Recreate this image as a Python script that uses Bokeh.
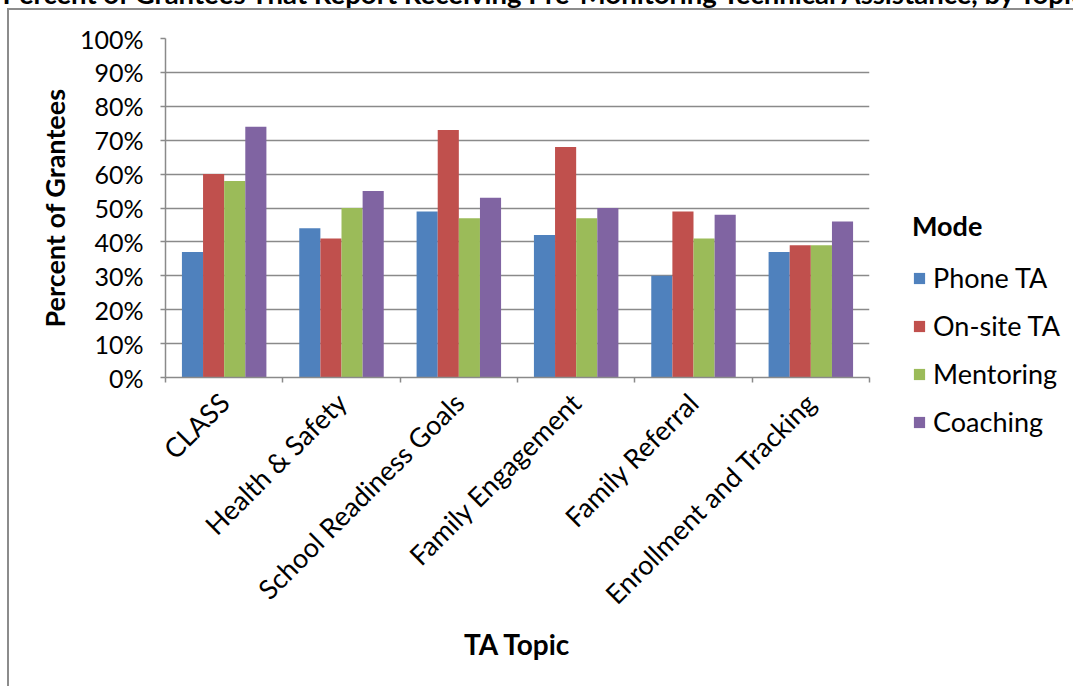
import math
from bokeh.plotting import figure
from bokeh.models import (Range1d, FixedTicker, Legend, LegendItem, Label,
                          PrintfTickFormatter, ColumnDataSource, InlineStyleSheet)
from bokeh.transform import dodge
from bokeh.embed import file_html
from bokeh.resources import INLINE

# ---- data ----
topics = ["CLASS", "Health & Safety", "School Readiness Goals",
          "Family Engagement", "Family Referral", "Enrollment and Tracking"]
modes = ["Phone TA", "On-site TA", "Mentoring", "Coaching"]
phone_ta = [37, 44, 49, 42, 30, 37]
onsite_ta = [60, 41, 73, 68, 49, 39]
mentoring = [58, 50, 47, 47, 41, 39]
coaching = [74, 55, 53, 50, 48, 46]
y_ticks = [0, 10, 20, 30, 40, 50, 60, 70, 80, 90, 100]
title_text = "Percent of Grantees That Report Receiving Pre-Monitoring Technical Assistance, by Topic"
x_title = "TA Topic"
y_title = "Percent of Grantees"
legend_title = "Mode"

colors = ["#4F81BD", "#C0504D", "#9BBB59", "#8064A2"]
FONT = "Lato"
GRAY = "#8a8a8a"

n = len(topics)
idx = list(range(n))
src = ColumnDataSource(dict(x=idx, phone=phone_ta, onsite=onsite_ta,
                            mentoring=mentoring, coaching=coaching))

p = figure(width=1073, height=686, frame_width=704, frame_height=339,
           x_range=Range1d(-0.5, n - 0.5),
           y_range=Range1d(0, 100), output_backend="svg", toolbar_location=None,
           min_border_left=165, min_border_right=204, min_border_top=38,
           min_border_bottom=309)
p.outline_line_color = None

# keep the page to the window and draw the chart-area frame (it runs past the window)
p.stylesheets = [InlineStyleSheet(css="""
:host { width: 1073px !important; height: 686px !important; overflow: hidden !important; position: relative; }
:host::after { content: ""; position: absolute; left: 7px; top: 8px; width: 3000px; height: 3000px;
  border-left: 2px solid #8c8c8c; border-top: 2px solid #8c8c8c; pointer-events: none; }
""")]

cols = ["phone", "onsite", "mentoring", "coaching"]
bw = 0.18
offsets = [-1.5 * bw, -0.5 * bw, 0.5 * bw, 1.5 * bw]
renderers = []
for c, off, col in zip(cols, offsets, colors):
    r = p.vbar(x=dodge("x", off, range=p.x_range), top=c, width=bw, bottom=0,
               source=src, fill_color=col, line_color=None)
    renderers.append(r)

# grid
p.xgrid.grid_line_color = None
p.ygrid.ticker = FixedTicker(ticks=y_ticks)
p.ygrid.grid_line_color = GRAY
p.ygrid.grid_line_width = 1.5

# y axis
ya = p.yaxis[0]
ya.ticker = FixedTicker(ticks=y_ticks)
ya.formatter = PrintfTickFormatter(format="%d%%")
ya.axis_line_color = GRAY
ya.axis_line_width = 1.5
ya.major_tick_line_color = GRAY
ya.major_tick_line_width = 1.5
ya.major_tick_out = 5
ya.major_tick_in = 0
ya.minor_tick_line_color = None
ya.major_label_standoff = 17
ya.major_label_text_font = FONT
ya.major_label_text_font_size = "25px"
ya.major_label_text_color = "black"
ya.axis_label = y_title
ya.axis_label_text_font = FONT
ya.axis_label_text_font_size = "27px"
ya.axis_label_text_font_style = "bold"
ya.axis_label_text_color = "black"
ya.axis_label_standoff = 6

# x axis
xa = p.xaxis[0]
xa.ticker = FixedTicker(ticks=idx, minor_ticks=[i - 0.5 for i in range(n + 1)])
xa.major_label_overrides = {i: t for i, t in enumerate(topics)}
xa.major_label_orientation = math.pi / 4
xa.major_tick_line_color = None
xa.major_tick_out = 0
xa.major_tick_in = 0
xa.minor_tick_line_color = GRAY
xa.minor_tick_line_width = 1.5
xa.minor_tick_out = 5
xa.minor_tick_in = 0
xa.axis_line_color = GRAY
xa.axis_line_width = 1.5
xa.major_label_standoff = 15
xa.major_label_text_font = FONT
xa.major_label_text_font_size = "27px"
xa.major_label_text_color = "black"
xa.axis_label = x_title
xa.axis_label_text_font = FONT
xa.axis_label_text_font_size = "28px"
xa.axis_label_text_font_style = "bold"
xa.axis_label_text_color = "black"
xa.axis_label_standoff = 2

# legend (right panel)
items = [LegendItem(label=m, renderers=[r]) for m, r in zip(modes, renderers)]
leg = Legend(items=items, title=legend_title, location=(43, -61),
             orientation="vertical", glyph_width=14, glyph_height=14,
             label_standoff=7, spacing=15, padding=0, margin=0,
             title_standoff=19, background_fill_alpha=0,
             border_line_color=None,
             label_text_font=FONT, label_text_font_size="27px",
             label_text_color="black",
             title_text_font=FONT, title_text_font_size="27px",
             title_text_font_style="bold", title_text_color="black")
p.add_layout(leg, "right")

# caption above the chart area (only its lower edge is inside the window)
caption = Label(x=2, y=-7, x_units="canvas", y_units="canvas", text=title_text,
                text_font=FONT, text_font_size="27.5px", text_font_style="bold",
                text_baseline="alphabetic", text_color="black")
p.add_layout(caption, "above")

open("out.html", "w").write(file_html(p, INLINE))
